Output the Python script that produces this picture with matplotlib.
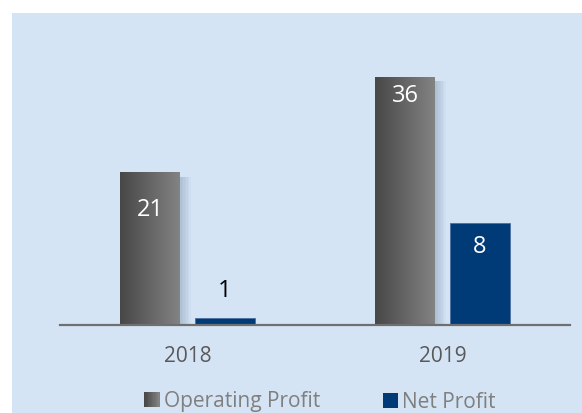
import numpy as np
import matplotlib
matplotlib.use("Agg")
import matplotlib.pyplot as plt
from matplotlib.patches import Rectangle
from matplotlib.legend_handler import HandlerBase
from matplotlib.colors import LinearSegmentedColormap

years = ['2018', '2019']
operating = [22.2, 36.0]     # bar heights as drawn
net = [1.0, 14.8]
op_labels = ['21', '36']
net_labels = ['1', '8']

bg = '#D5E4F5'
net_color = '#003B78'
grad = LinearSegmentedColormap.from_list('g', ['#474747', '#838383'])

plt.rcParams['font.family'] = ['Open Sans', 'DejaVu Sans']

fig = plt.figure(figsize=(5.82, 4.13), dpi=100)
fig.patches.append(Rectangle((12 / 582, 0), 1, 1 - 13 / 413, transform=fig.transFigure,
                             facecolor=bg, edgecolor='none', zorder=-10))

ax = fig.add_axes([60 / 582, 88 / 413, 510 / 582, 275.6 / 413])
ax.set_facecolor('none')

x = np.arange(len(years))
w = 0.235
off = 0.147

# soft shadow behind operating bars
for xi, h in zip(x, operating):
    for k in range(8):
        ax.add_patch(Rectangle((xi - off - w / 2 + 0.002 * k, -0.35), w + 0.004 * k, h - 0.3,
                               facecolor='#6f86a3', edgecolor='none', alpha=0.06, zorder=1))

op_bars = ax.bar(x - off, operating, w, color='none', zorder=2)
for b in op_bars:
    im = ax.imshow(np.linspace(0, 1, 100).reshape(1, -1), cmap=grad, aspect='auto',
                   extent=[b.get_x(), b.get_x() + b.get_width(), 0, b.get_height()], zorder=2)
    im.set_clip_path(b)
ax.set_xlim(-0.5, 1.5)
ax.set_ylim(0, 40)

net_bars = ax.bar(x + off, net, w, color=net_color, edgecolor='#4a6fa0', linewidth=0.6, zorder=2)

# data labels
lab_fs = 17
op_pad = [38, 19]
for b, lab, p in zip(op_bars, op_labels, op_pad):
    ax.annotate(lab, (b.get_x() + b.get_width() / 2, b.get_height()), xytext=(0, -p * 0.72),
                textcoords='offset points', ha='center', va='center', color='white', fontsize=lab_fs)
ax.annotate(net_labels[0], (net_bars[0].get_x() + w / 2, net[0]), xytext=(0, 27 * 0.72),
            textcoords='offset points', ha='center', va='center', color='black', fontsize=lab_fs)
ax.annotate(net_labels[1], (net_bars[1].get_x() + w / 2, net[1]), xytext=(0, -23.5 * 0.72),
            textcoords='offset points', ha='center', va='center', color='white', fontsize=lab_fs)

for s in ['top', 'left', 'right']:
    ax.spines[s].set_visible(False)
ax.spines['bottom'].set_color('#6f6f6f')
ax.spines['bottom'].set_linewidth(1.6)
ax.set_yticks([])
ax.set_xticks(x)
ax.set_xticklabels(years, fontsize=15, color='#595959')
ax.tick_params(axis='x', length=0, pad=15)


class GradHandler(HandlerBase):
    def create_artists(self, legend, orig, xd, yd, width, height, fontsize, trans):
        n = 12
        arts = []
        for i in range(n):
            arts.append(Rectangle((xd + width * i / n, yd), width / n + 0.3, height,
                                  facecolor=grad(i / (n - 1)), edgecolor='none', transform=trans))
        return arts


h1 = Rectangle((0, 0), 1, 1)
h2 = Rectangle((0, 0), 1, 1, facecolor=net_color)
leg = fig.legend([h1, h2], ['Operating Profit', 'Net Profit'], handler_map={h1: GradHandler()},
                 loc='center', bbox_to_anchor=(320 / 582, 1 - 402 / 413), ncol=2, frameon=False,
                 fontsize=15, handlelength=0.75, handleheight=0.75, handletextpad=0.2,
                 columnspacing=3.0, labelcolor='#7f7f7f')

fig.savefig('out.png', dpi=100)
